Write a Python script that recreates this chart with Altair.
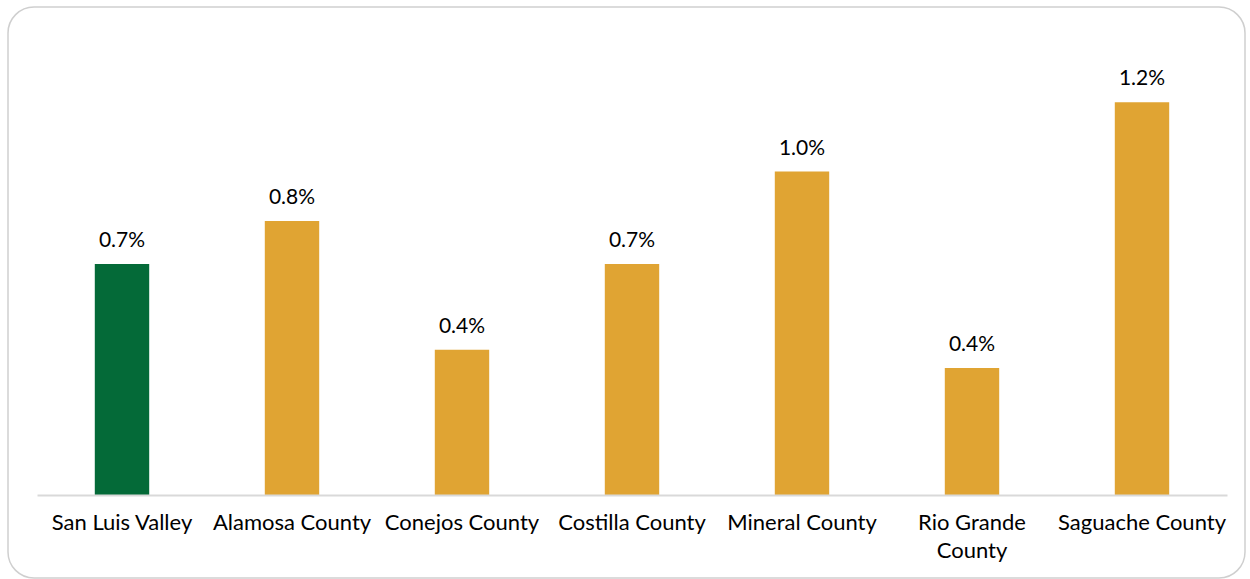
import altair as alt
import pandas as pd

categories = ["San Luis Valley", "Alamosa County", "Conejos County", "Costilla County",
              "Mineral County", "Rio Grande County", "Saguache County"]
values = [0.70, 0.83, 0.44, 0.70, 0.98, 0.385, 1.19]
labels = ["0.7%", "0.8%", "0.4%", "0.7%", "1.0%", "0.4%", "1.2%"]
groups = ["region", "county", "county", "county", "county", "county", "county"]

df = pd.DataFrame({"cat": categories, "val": values, "lab": labels, "grp": groups})

FONT = "Lato"
W, H = 1190, 462

x = alt.X("cat:N", sort=categories, title=None,
          scale=alt.Scale(paddingInner=0.68, paddingOuter=0.34),
          axis=alt.Axis(labelAngle=0, labelFontSize=22, labelFont=FONT, labelColor="#000000",
                        labelPadding=17, ticks=False, domainColor="#d9d9d9", domainWidth=2,
                        labelLineHeight=28, labelLimit=400, zindex=1,
                        labelExpr="datum.value == 'Rio Grande County' ? ['Rio Grande', 'County'] : datum.value"))
y = alt.Y("val:Q", title=None, scale=alt.Scale(domain=[0, 1.4], nice=False),
          axis=None)

frame = alt.Chart(pd.DataFrame({"a": [0]})).mark_rect(
    fill="white", stroke="#cfcfcf", strokeWidth=1.5, cornerRadius=26
).encode(x=alt.value(-29), x2=alt.value(1208), y=alt.value(-26), y2=alt.value(545))

bars = alt.Chart(df).mark_bar().encode(
    x=x, y=y,
    color=alt.Color("grp:N", scale=alt.Scale(domain=["region", "county"],
                                              range=["#046a38", "#e0a433"]), legend=None)
)

text = alt.Chart(df).mark_text(baseline="bottom", dy=-13, fontSize=21, font=FONT,
                               color="#000000").encode(x=x, y=y, text="lab:N")

chart = alt.layer(frame, bars, text).properties(
    width=W, height=H, padding={"left": 7, "top": 6, "right": 0, "bottom": 0},
    background="white"
).configure_view(stroke=None)

chart.save("out.html", embed_options={"renderer": "svg", "actions": False})
